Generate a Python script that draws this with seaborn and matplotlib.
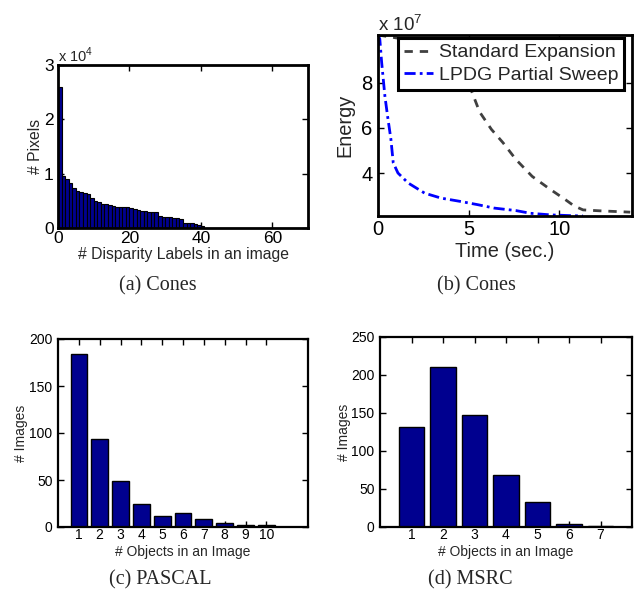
import numpy as np
import pandas as pd
import matplotlib
matplotlib.use("Agg")
import matplotlib.pyplot as plt
import seaborn as sns

# ---------------- data ----------------
# (a) pixels per disparity label (sorted), in pixels
disp_counts = [25900, 9600, 9000, 8200, 7400, 6900, 6700, 6500, 6200, 5500,
               4900, 4700, 4500, 4400, 4200, 4000, 3900, 3800, 3800, 3800,
               3700, 3500, 3400, 3200, 3200, 2900, 2900, 2900, 2200, 2100,
               2000, 2000, 1900, 1900, 1700, 1000, 900, 900, 700, 500, 300]

# (b) energy vs time (x 1e7)
std_time = [0, 1.1, 2.0, 3.0, 4.0, 5.0, 5.6, 6.25, 6.9, 7.6, 8.5, 9.4, 10.35, 10.8, 11.3, 12.2, 13.9]
std_energy = [10.1, 9.96, 9.7, 9.3, 8.75, 7.95, 6.7, 5.93, 5.33, 4.6, 3.85, 3.33, 2.81, 2.55, 2.37, 2.33, 2.27]
lp_time = [0, 0.1, 0.2, 0.38, 0.53, 0.71, 0.84, 1.1, 1.66, 2.57, 3.48, 4.57, 5.5, 6.4, 7.6, 8.4, 9.5, 10.5, 11.3]
lp_energy = [10.1, 9.92, 8.9, 7.4, 6.5, 5.5, 4.45, 4.0, 3.56, 3.11, 2.89, 2.74, 2.6, 2.45, 2.34, 2.22, 2.15, 2.12, 2.1]

# (c) PASCAL
pascal_objects = [1, 2, 3, 4, 5, 6, 7, 8, 9, 10]
pascal_images = [184, 94, 49, 24, 12, 15, 9, 4, 2, 2]

# (d) MSRC
msrc_objects = [1, 2, 3, 4, 5, 6, 7]
msrc_images = [131, 210, 147, 68, 33, 4, 1]

# ---------------- style ----------------
sns.set_theme(style="white")
plt.rcParams['font.family'] = ['Liberation Sans', 'DejaVu Sans']
plt.rcParams['mathtext.fontset'] = 'custom'
plt.rcParams['mathtext.rm'] = 'Liberation Sans'

BAR = '#00008F'
W, H = 634, 590
fig = plt.figure(figsize=(W / 100, H / 100), dpi=100)


def add_ax(l, t, r, b):
    return fig.add_axes([l / W, 1 - b / H, (r - l) / W, (b - t) / H])


def frame(ax, lw, tick_fs, xpad, ypad):
    for s in ax.spines.values():
        s.set_visible(True)
        s.set_color('black')
        s.set_linewidth(lw)
    ax.tick_params(direction='in', top=True, right=True, bottom=True, left=True,
                   length=4, width=1, labelsize=tick_fs, colors='black')
    ax.tick_params(axis='x', pad=xpad)
    ax.tick_params(axis='y', pad=ypad)
    ax.grid(False)
    ax.set_facecolor('white')


def labels(ax, xl, yl, fs, xy, yx):
    ax.set_xlabel(xl, fontsize=fs)
    ax.set_ylabel(yl, fontsize=fs)
    ax.xaxis.set_label_coords(0.5, xy)
    ax.xaxis.label.set_va('center')
    ax.yaxis.set_label_coords(yx, 0.5)
    ax.yaxis.label.set_va('center')


# (a)
axa = add_ax(58, 65, 308, 228)
df_a = pd.DataFrame({'label': np.arange(len(disp_counts)) + 0.5,
                     'pixels': np.array(disp_counts) / 1e4})
sns.barplot(data=df_a, x='label', y='pixels', native_scale=True, width=1,
            color=BAR, edgecolor='black', linewidth=0.8, saturation=1, ax=axa)
axa.set_xlim(0, 70)
axa.set_ylim(0, 3)
axa.set_xticks([0, 20, 40, 60])
axa.set_yticks([0, 1, 2, 3])
frame(axa, 2, 12.5, 2, 3)
labels(axa, '# Disparity Labels in an image', '# Pixels', 11.3, -0.165, -0.09)
axa.text(0.0, 1.0, r'x 10$^{4}$', transform=axa.transAxes, fontsize=10.5,
         ha='left', va='bottom')

# (b)
axb = add_ax(378, 35, 632, 216)
df_std = pd.DataFrame({'t': std_time, 'e': std_energy})
df_lp = pd.DataFrame({'t': lp_time, 'e': lp_energy})
sns.lineplot(data=df_std, x='t', y='e', color='#404040', lw=2, ax=axb,
             label='Standard Expansion', sort=False)
sns.lineplot(data=df_lp, x='t', y='e', color='blue', lw=2, ax=axb,
             label='LPDG Partial Sweep', sort=False)
axb.lines[0].set_linestyle((0, (3, 2.5)))
axb.lines[1].set_linestyle((0, (4, 1.5, 1, 1.5)))
axb.set_xlim(0, 14)
axb.set_ylim(2.1, 10.1)
axb.set_xticks([0, 5, 10])
axb.set_yticks([4, 6, 8])
frame(axb, 2, 14.5, 3, 4)
labels(axb, 'Time (sec.)', 'Energy', 14.4, -0.195, -0.13)
axb.text(0.0, 1.0, r'x 10$^{7}$', transform=axb.transAxes, fontsize=13.5,
         ha='left', va='bottom')
leg = axb.legend(loc='upper right', bbox_to_anchor=(624 / W, 1 - 38 / H),
                 bbox_transform=fig.transFigure, fontsize=14, frameon=True,
                 fancybox=False, borderaxespad=0, handlelength=1.5,
                 handletextpad=0.3, borderpad=0.3, labelspacing=0.25)
leg.get_frame().set_edgecolor('black')
leg.get_frame().set_linewidth(2.2)
leg.get_frame().set_alpha(1)

# (c)
axc = add_ax(58, 339, 308, 527)
sns.barplot(x=pascal_objects, y=pascal_images, native_scale=True, width=0.8,
            color=BAR, edgecolor='black', linewidth=1, saturation=1, ax=axc)
axc.set_xlim(0, 12)
axc.set_ylim(0, 200)
axc.set_xticks(pascal_objects)
axc.set_yticks([0, 50, 100, 150, 200])
frame(axc, 1.6, 10, 1, 4)
labels(axc, '# Objects in an Image', '# Images', 10, -0.135, -0.146)

# (d)
axd = add_ax(380, 337, 632, 527)
sns.barplot(x=msrc_objects, y=msrc_images, native_scale=True, width=0.8,
            color=BAR, edgecolor='black', linewidth=1, saturation=1, ax=axd)
axd.set_xlim(0, 8)
axd.set_ylim(0, 250)
axd.set_xticks(msrc_objects)
axd.set_yticks([0, 50, 100, 150, 200, 250])
frame(axd, 1.6, 10, 1, 4)
labels(axd, '# Objects in an Image', '# Images', 10, -0.134, -0.141)

# captions
cap = dict(family=['Liberation Serif', 'DejaVu Serif'], ha='center', va='center')
fig.text(158 / W, 1 - 286 / H, '(a) Cones', fontsize=14.5, **cap)
fig.text(476 / W, 1 - 286 / H, '(b) Cones', fontsize=14.5, **cap)
fig.text(160 / W, 1 - 580 / H, '(c) PASCAL', fontsize=14.5, **cap)
fig.text(470 / W, 1 - 580 / H, '(d) MSRC', fontsize=14.5, **cap)

fig.savefig('out.png', dpi=100)
